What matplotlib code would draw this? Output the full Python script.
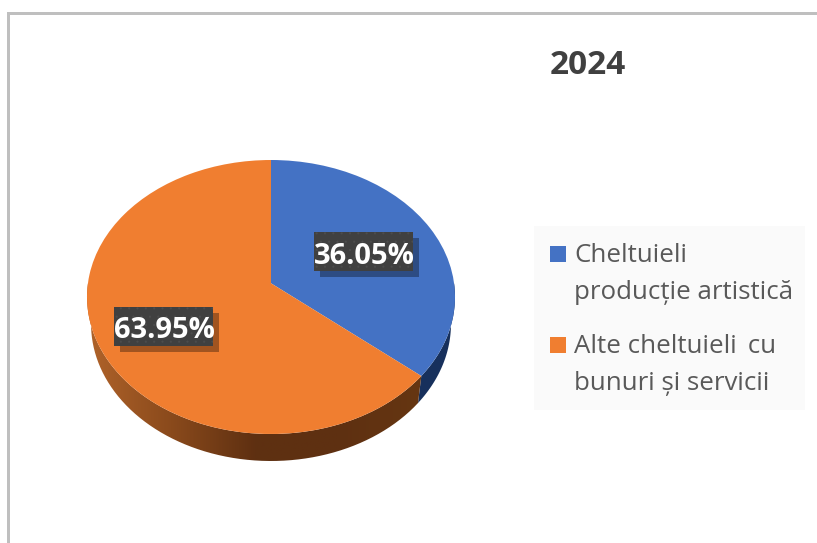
import numpy as np
import matplotlib
matplotlib.use("Agg")
import matplotlib.pyplot as plt
from matplotlib.colors import LinearSegmentedColormap
from matplotlib.patches import PathPatch, Rectangle
from matplotlib.path import Path
from matplotlib.transforms import Transform

plt.rcParams["font.family"] = ["Open Sans", "DejaVu Sans"]
plt.rcParams["hatch.linewidth"] = 0.3

W, H = 817, 543

title = "2024"
categories = ["Cheltuieli\nproducție artistică", "Alte cheltuieli \u2009cu\nbunuri și servicii"]
shares = [36.05, 63.95]
colors = ["#4472c4", "#f07e30"]
side_blue = "#17305c"
side_orange = ["#b0632a", "#8a4a1c", "#5f3011", "#5e3011", "#663612"]

# pie geometry in pixels (top ellipse), tilt moves the apex up like excel's 3d pie
cx, cy, rx, ry, depth = 271, 297, 184, 137, 27
tilt = 0.10
floor_scale = 0.978  # bottom rim is a bit narrower than the top one


def project(u, v):
    d = 1 + tilt * v
    return u * np.sqrt(1 - tilt**2) / d, (v + tilt) / d


class Tilt(Transform):
    input_dims = 2
    output_dims = 2

    def transform_non_affine(self, xy):
        x, y = project(xy[:, 0], xy[:, 1])
        return np.column_stack([x, y])


def fx(px):
    return px / W


def fy(py):
    return 1 - py / H


def box(x0, y0, x1, y1, **kw):
    fig.add_artist(Rectangle((fx(x0), fy(y1)), (x1 - x0) / W, (y1 - y0) / H,
                             transform=fig.transFigure, lw=0, **kw))


fig = plt.figure(figsize=(W / 100, H / 100), dpi=100)
ax = fig.add_axes([0, 0, 1, 1])

wedges, _ = ax.pie(shares, colors=colors, startangle=90, counterclock=False, radius=1)
tilted = Tilt() + ax.transData
for w in wedges:
    w.set_transform(tilted)
    w.set_zorder(3)

ax.set_aspect("auto")
ax.set_axis_off()

# side wall: lower half of the rim, dropped by the depth
d = depth / ry
edge = 90 - shares[0] / sum(shares) * 360
t_blue = np.radians(np.linspace(edge, 0, 60))
x_b, y_b = project(np.cos(t_blue), np.sin(t_blue))
blue_pts = np.r_[np.c_[x_b, y_b], np.c_[x_b * floor_scale, y_b - d][::-1]]
ax.fill(blue_pts[:, 0], blue_pts[:, 1], color=side_blue, lw=0, zorder=1)

t_or = np.radians(np.linspace(-180, edge, 200))
x_o, y_o = project(np.cos(t_or), np.sin(t_or))
or_pts = np.r_[np.c_[x_o, y_o], np.c_[x_o * floor_scale, y_o - d][::-1]]
clip = PathPatch(Path(or_pts), transform=ax.transData, fc="none", ec="none")
ax.add_patch(clip)
cmap = LinearSegmentedColormap.from_list("side", side_orange)
im = ax.imshow(np.linspace(0, 1, 256)[None, :], cmap=cmap, aspect="auto", zorder=2,
               extent=[-1, x_o[-1], -1.3, 0.2])
im.set_clip_path(clip)
ax.set_xlim(-cx / rx, (W - cx) / rx)
ax.set_ylim((cy - H) / ry, cy / ry)

# chart border, only top and left show
box(7, 12, W, 15, color="#bfbfbf", zorder=0)
box(7, 12, 10, H, color="#bfbfbf", zorder=0)

fig.text(fx(587.5), fy(66), title, fontsize=24, fontweight="bold", color="#404040",
         ha="center", va="center")

# data labels
for share, (x0, y0) in zip(shares, [(314, 232), (114, 307)]):
    box(x0 + 6, y0 + 6, x0 + 105, y0 + 45, color="black", alpha=0.33, zorder=5)
    box(x0, y0, x0 + 99, y0 + 39, facecolor="#404040", edgecolor="#4d4d4d", hatch="..", zorder=6)
    fig.text(fx(x0 + 50.5), fy(y0 + 20.5), f"{share:.2f}%", fontsize=21, fontweight="bold",
             color="white", ha="center", va="center_baseline", zorder=7)

# legend
box(534, 226, 805, 410, color="#fafafa", zorder=4)
for label, color, y0 in zip(categories, colors, [254, 345]):
    box(550, y0 - 8, 566, y0 + 8, color=color, zorder=5)
    fig.text(fx(574), fy(y0 + 20), label, fontsize=18.6, color="#595959", ha="left",
             va="center", linespacing=1.58, zorder=5)

fig.savefig("out.png", dpi=100)
